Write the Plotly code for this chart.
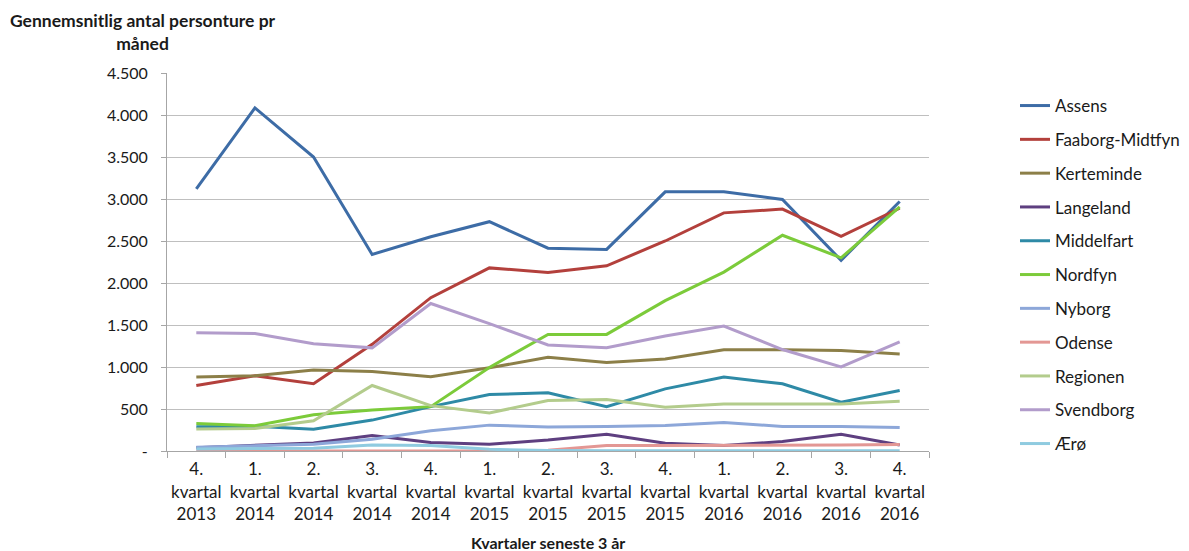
import plotly.graph_objects as go

quarters = ["4.<br>kvartal<br>2013", "1.<br>kvartal<br>2014", "2.<br>kvartal<br>2014", "3.<br>kvartal<br>2014",
            "4.<br>kvartal<br>2014", "1.<br>kvartal<br>2015", "2.<br>kvartal<br>2015", "3.<br>kvartal<br>2015",
            "4.<br>kvartal<br>2015", "1.<br>kvartal<br>2016", "2.<br>kvartal<br>2016", "3.<br>kvartal<br>2016",
            "4.<br>kvartal<br>2016"]

assens = [3120, 4085, 3500, 2340, 2550, 2730, 2415, 2400, 3085, 3085, 2995, 2270, 2970]
faaborg = [780, 895, 800, 1270, 1825, 2180, 2125, 2205, 2500, 2835, 2880, 2555, 2890]
kerteminde = [880, 895, 965, 945, 885, 990, 1115, 1055, 1095, 1205, 1205, 1195, 1155]
langeland = [40, 65, 95, 185, 100, 80, 130, 200, 92, 64, 112, 200, 72]
middelfart = [288, 295, 260, 368, 528, 672, 692, 528, 740, 880, 800, 580, 720]
nordfyn = [328, 300, 432, 488, 528, 995, 1388, 1388, 1790, 2130, 2568, 2300, 2905]
nyborg = [44, 60, 80, 140, 240, 308, 285, 292, 304, 340, 292, 292, 280]
odense = [0, 0, 0, 0, 0, 0, 10, 64, 64, 64, 64, 72, 76]
regionen = [262, 268, 360, 780, 540, 452, 600, 612, 520, 560, 560, 560, 592]
svendborg = [1408, 1400, 1276, 1228, 1756, 1516, 1262, 1230, 1368, 1488, 1208, 1000, 1300]
aeroe = [24, 28, 34, 70, 64, 20, 6, 4, 4, 4, 4, 4, 4]

series_names = ["Assens", "Faaborg-Midtfyn", "Kerteminde", "Langeland", "Middelfart", "Nordfyn",
                "Nyborg", "Odense", "Regionen", "Svendborg", "Ærø"]
series_values = [assens, faaborg, kerteminde, langeland, middelfart, nordfyn,
                 nyborg, odense, regionen, svendborg, aeroe]
series_colors = ["#3D6CA6", "#B3403C", "#8C7F48", "#5E3F80", "#2E8AA6", "#7CCB3A",
                 "#8DA7D9", "#E39794", "#B3CC8C", "#B29CCB", "#8FCBE0"]

y_tickvals = [0, 500, 1000, 1500, 2000, 2500, 3000, 3500, 4000, 4500]
y_ticktext = ["-", "500", "1.000", "1.500", "2.000", "2.500", "3.000", "3.500", "4.000", "4.500"]

fig = go.Figure()
for i, (name, vals, col) in enumerate(zip(series_names, series_values, series_colors)):
    fig.add_trace(go.Scatter(x=quarters, y=vals, name=name, mode="lines",
                             line=dict(color=col, width=3), legendgroup=f"g{i}"))

font_family = "Lato, Open Sans, sans-serif"
W, H = 1181, 543          # page adds an 8px body margin
PW, PH, L, T = 762, 378, 159, 65

fig.update_layout(
    width=W, height=H,
    margin=dict(l=L, r=W - L - PW, t=T, b=H - T - PH, autoexpand=False),
    paper_bgcolor="white", plot_bgcolor="white",
    font=dict(family=font_family, size=15, color="#1a1a1a"),
    showlegend=True,
    legend=dict(xref="container", yref="container", x=1007 / W, xanchor="left",
                y=1 - 80 / H, yanchor="top", maxheight=520,
                font=dict(size=17, color="#1a1a1a"), tracegroupgap=8.7,
                bgcolor="rgba(0,0,0,0)"),
    xaxis=dict(type="category", range=[-0.5, len(quarters) - 0.5], showgrid=False,
               showline=True, linecolor="#A6A6A6", linewidth=1, automargin=False,
               ticks="outside", tickson="boundaries", ticklen=6, tickcolor="#A6A6A6",
               tickangle=0, tickfont=dict(size=17), zeroline=False, ticklabelstandoff=3),
    yaxis=dict(range=[0, 4500], tickvals=y_tickvals, ticktext=y_ticktext, showgrid=True,
               gridcolor="#BFBFBF", gridwidth=1, showline=True, linecolor="#A6A6A6", linewidth=1,
               ticks="outside", ticklen=5, tickcolor="#A6A6A6", zeroline=False, automargin=False,
               tickfont=dict(size=16), ticklabelstandoff=10),
    annotations=[
        dict(text="<b>Gennemsnitlig antal personture pr<br>måned</b>",
             x=(135 - L) / PW, y=(T + PH - 0) / PH, xref="paper", yref="paper",
             xanchor="center", yanchor="top", showarrow=False, font=dict(size=17.5)),
        dict(text="<b>Kvartaler seneste 3 år</b>",
             x=0.5, y=(T + PH - 534) / PH, xref="paper", yref="paper",
             xanchor="center", yanchor="middle", showarrow=False, font=dict(size=16)),
    ],
)

fig.write_html("out.html")
